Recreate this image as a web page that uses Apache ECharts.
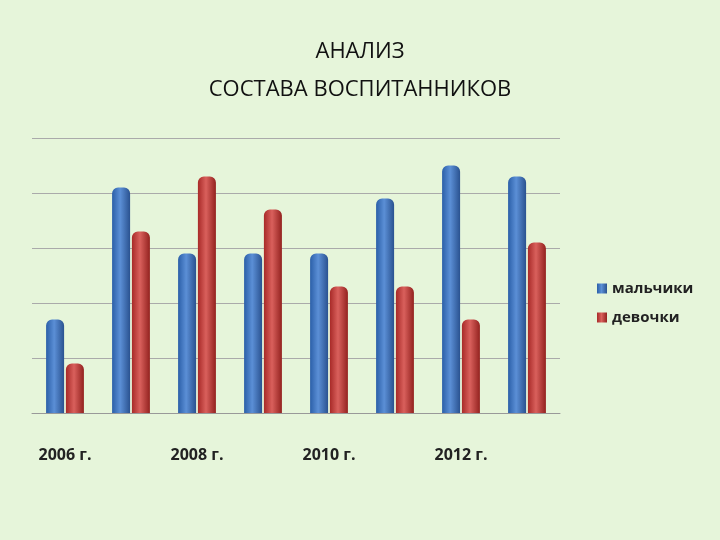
<!DOCTYPE html>
<html><head><meta charset="utf-8">
<script src="https://cdn.jsdelivr.net/npm/echarts@6/dist/echarts.min.js"></script>
<style>html,body{margin:0;background:#e6f5da;}#c{width:720px;height:540px;}</style>
</head><body><div id="c"></div>
<script>
const categories=['2006 г.','2007 г.','2008 г.','2009 г.','2010 г.','2011 г.','2012 г.','2013 г.'];
const boys=[1.7,4.1,2.9,2.9,2.9,3.9,4.5,4.3];
const girls=[0.9,3.3,4.3,3.7,2.3,2.3,1.7,3.1];
const grad=(a,b,c)=>new echarts.graphic.LinearGradient(0,0,1,0,[{offset:0,color:a},{offset:0.45,color:b},{offset:1,color:c}]);
const ch=echarts.init(document.getElementById('c'));
ch.setOption({
 backgroundColor:'#e6f5da',
 title:{text:'АНАЛИЗ\nСОСТАВА ВОСПИТАННИКОВ',left:'center',top:28,textStyle:{fontFamily:'Open Sans',fontWeight:'normal',fontSize:22,color:'#111',lineHeight:38}},
 legend:{orient:'vertical',left:592,top:276,itemWidth:10,itemHeight:10,itemGap:14,icon:'rect',
  textStyle:{fontFamily:'Open Sans',fontWeight:'bold',fontSize:15,color:'#222'},data:['мальчики','девочки']},
 grid:{left:32,right:160,top:138,bottom:127},
 xAxis:{type:'category',data:categories,axisTick:{show:false},axisLine:{lineStyle:{color:'#999'}},
  axisLabel:{margin:34,fontFamily:'Open Sans',fontWeight:'bold',fontSize:16,color:'#222'}},
 yAxis:{type:'value',min:0,max:5,interval:1,axisLabel:{show:false},splitLine:{lineStyle:{color:'#aaa'}}},
 series:[
  {name:'мальчики',type:'bar',data:boys,barWidth:18,barGap:'10%',itemStyle:{color:grad('#2b5fa8','#5b8fd6','#2a5290'),borderRadius:[6,6,0,0]}},
  {name:'девочки',type:'bar',data:girls,barWidth:18,itemStyle:{color:grad('#a82a28','#d9605c','#93221f'),borderRadius:[6,6,0,0]}}
 ]
});
</script></body></html>
